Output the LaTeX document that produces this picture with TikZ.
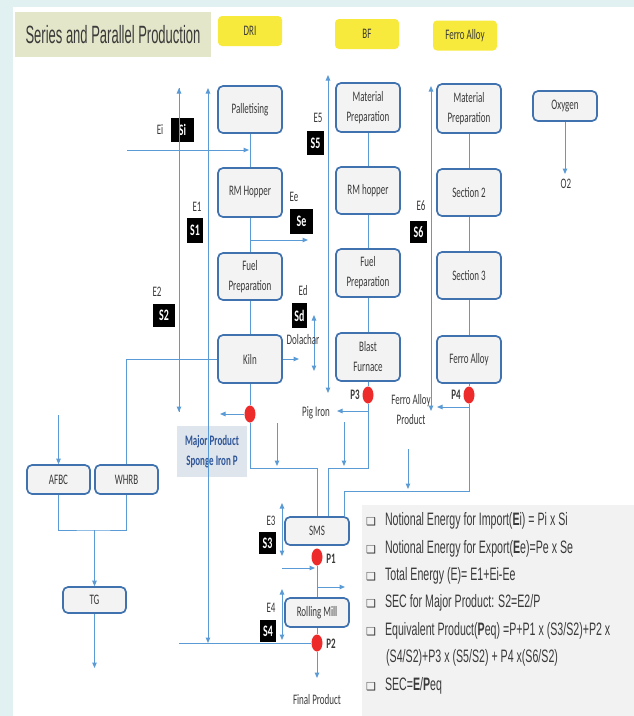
\documentclass[tikz,border=0pt]{standalone}
\usepackage{fontspec}
\usetikzlibrary{arrows.meta,shapes.geometric}
\setmainfont{Carlito}
\newfontfamily\boxface[FakeStretch=0.62]{Carlito}
\newfontfamily\titleface[FakeStretch=0.52]{Liberation Sans}
\newfontfamily\legendface[FakeStretch=0.59]{Liberation Sans}
\newfontfamily\symface{DejaVu Sans}
\newcommand\lblfont{\boxface\fontsize{14.5}{20}\selectfont}
\newcommand\bul{{\symface\fontsize{11}{13}\selectfont ❑}}

\definecolor{bgcyan}{HTML}{E1F1F1}
\definecolor{titlefill}{HTML}{E4E6C9}
\definecolor{tagyellow}{HTML}{F8EA3C}
\definecolor{boxblue}{HTML}{3F72AF}
\definecolor{boxfill}{HTML}{F3F3F3}
\definecolor{lineblue}{HTML}{5B9BD5}
\definecolor{dotred}{HTML}{EE2B2B}
\definecolor{majfill}{HTML}{DEE5ED}
\definecolor{majtext}{HTML}{2F5597}
\definecolor{legendfill}{HTML}{F2F2F2}
\definecolor{txt}{HTML}{3A3A3A}

\tikzset{
  box/.style={draw=boxblue, line width=1.7pt, fill=boxfill, rounded corners=5pt,
    minimum width=64pt, inner sep=0pt, align=center, font=\lblfont, text=txt},
  tag/.style={fill=tagyellow, rounded corners=4pt, minimum width=64pt,
    minimum height=30pt, inner sep=0pt, font=\lblfont, text=txt},
  titlebox/.style={fill=titlefill, minimum width=196pt, minimum height=45pt,
    inner sep=0pt, font=\titleface\fontsize{25}{30}\selectfont, text=txt},
  sbox/.style={fill=black, text=white, font=\boxface\fontsize{16}{18}\selectfont\bfseries, inner sep=0pt},
  elabel/.style={font=\lblfont, text=txt, inner sep=0pt},
  plabel/.style={font=\lblfont\bfseries, text=txt, inner sep=0pt},
  pdot/.style={ellipse, fill=dotred, minimum width=11pt, minimum height=17pt, inner sep=0pt},
  major/.style={fill=majfill, minimum width=70pt, minimum height=51pt, inner sep=0pt,
    align=center, font=\lblfont\bfseries, text=majtext},
  legendbg/.style={fill=legendfill, minimum width=272pt, minimum height=211pt, inner sep=0pt},
  item/.style={font=\legendface\fontsize{18}{22}\selectfont, text=txt, inner sep=0pt, anchor=west},
  flow/.style={draw=lineblue, line width=1pt},
  arr/.style={flow, -{Triangle[length=5.5pt,width=4.5pt]}},
  darr/.style={flow, {Triangle[length=5.5pt,width=4.5pt]}-{Triangle[length=5.5pt,width=4.5pt]}},
}

\begin{document}
\begin{tikzpicture}[x=1pt,y=-1pt]
% page ground
\fill[bgcyan] (0,0) rectangle (634,716);
\fill[white] (13,7) rectangle (634,716);
\useasboundingbox (0,0) rectangle (634,716);

% heading and column tags
\node[titlebox] (title) at (113,34.5) {Series and Parallel Production};
\node[tag] (tdri) at (250,31) {DRI};
\node[tag] (tbf) at (367,34) {BF};
\node[tag] (tfa) at (465,35.5) {Ferro Alloy};

% DRI column
\node[box, minimum height=47pt] (pal) at (250,109.5) {Palletising};
\node[box, minimum height=49pt] (rmh) at (250,192.5) {RM Hopper};
\node[box, minimum height=47pt] (fuel1) at (250,276.5) {Fuel\\Preparation};
\node[box, minimum height=48pt] (kiln) at (250,359) {Kiln};

% BF column
\node[box, minimum height=49pt] (mat1) at (368,107.5) {Material\\Preparation};
\node[box, minimum height=47pt] (rmh2) at (368,190.5) {RM hopper};
\node[box, minimum height=48pt] (fuel2) at (368,273) {Fuel\\Preparation};
\node[box, minimum height=48pt] (bf) at (368,357) {Blast\\Furnace};

% Ferro alloy column
\node[box, minimum height=49pt] (mat2) at (469,108.5) {Material\\Preparation};
\node[box, minimum height=47pt] (sec2) at (469,192.5) {Section 2};
\node[box, minimum height=47pt] (sec3) at (469,275.5) {Section 3};
\node[box, minimum height=47pt] (fa) at (469,359.5) {Ferro Alloy};

\node[box, minimum height=30pt] (oxy) at (565,106) {Oxygen};
\node[elabel] (o2) at (566,184) {O2};

% utilities on the left
\node[box, minimum width=63pt, minimum height=29pt] (afbc) at (58.5,479.5) {AFBC};
\node[box, minimum width=63pt, minimum height=29pt] (whrb) at (126.5,479.5) {WHRB};
\node[box, minimum width=63pt, minimum height=26pt] (tg) at (94.5,600) {TG};

% downstream units
\node[box, minimum height=28pt] (sms) at (317,531) {SMS};
\node[box, minimum height=29pt] (rm) at (317,612.5) {Rolling Mill};

\node[major] (major) at (212,451.5) {Major Product\\Sponge Iron P};

% product points
\node[pdot] (d0) at (250,414) {};
\node[pdot] (p3) at (368,395) {};
\node[pdot] (p4) at (469,395) {};
\node[pdot] (p1) at (317,557) {};
\node[pdot] (p2) at (317,643) {};
\node[plabel] (p3l) at (355,395) {P3};
\node[plabel] (p4l) at (456,395) {P4};
\node[plabel] (p1l) at (331,559) {P1};
\node[plabel] (p2l) at (331,644) {P2};

% free ends and junctions
\coordinate (eiL) at (127,150);  \coordinate (eiR) at (249,150);
\coordinate (seL) at (250,240);  \coordinate (seR) at (308,240);
\coordinate (kilnOut) at (299,359);
\coordinate (dolT) at (314,315); \coordinate (dolB) at (314,371);
\coordinate (aT) at (179,88);    \coordinate (aB) at (179,412);
\coordinate (bT) at (208,88);    \coordinate (bB) at (208,643);
\coordinate (hL) at (179,643);
\coordinate (e3T) at (282,503);  \coordinate (e3B) at (282,556);
\coordinate (e4T) at (282,589);  \coordinate (e4B) at (282,640);
\coordinate (p1in) at (282,568); \coordinate (p1inE) at (315,568);
\coordinate (outS) at (317,587); \coordinate (outE) at (345,587);
\coordinate (fpTip) at (317,678);
\coordinate (spTip) at (220,414);
\coordinate (j1) at (250,468);
\coordinate (j3) at (368,468);
\coordinate (j4) at (469,491);
\coordinate (pigS) at (368,411); \coordinate (pigE) at (337,411);
\coordinate (faS) at (469,407);  \coordinate (faE) at (437,407);
\coordinate (d1T) at (277,423);  \coordinate (d1B) at (277,466);
\coordinate (d2T) at (344,422);  \coordinate (d2B) at (344,466);
\coordinate (d3T) at (408,449);  \coordinate (d3B) at (408,489);
\coordinate (bfT) at (328,75);   \coordinate (bfB) at (328,393);
\coordinate (faT) at (431,86);   \coordinate (faB) at (431,411);
\coordinate (afbcIn) at (58.5,415);
\coordinate (jm) at (94.5,530);
\coordinate (tgOut) at (94.5,668);
\coordinate (o2tip) at (565,174);

% process chains
\draw[flow] (pal) -- (rmh) (rmh) -- (fuel1) (fuel1) -- (kiln) (kiln) -- (d0);
\draw[flow] (mat1) -- (rmh2) (rmh2) -- (fuel2) (fuel2) -- (bf) (bf) -- (p3);
\draw[flow] (mat2) -- (sec2) (sec2) -- (sec3) (sec3) -- (fa) (fa) -- (p4);
\draw[arr] (oxy) -- (o2tip);

% energy flows
\draw[darr] (aT) -- (aB);
\draw[darr] (bT) -- (bB);
\draw[darr] (bfT) -- (bfB);
\draw[darr] (faT) -- (faB);
\draw[arr] (eiL) -- (eiR);
\draw[arr] (seL) -- (seR);
\draw[arr] (kiln) -- (kilnOut);
\draw[darr] (dolT) -- (dolB);

% products to SMS
\draw[arr] (d0) -- (spTip);
\draw[flow] (d0) -- (j1) -| (sms.north);
\draw[flow] (p3) -- (j3) -| ([xshift=11pt]sms.north);
\draw[flow] (p4) -- (j4) -| ([xshift=27pt]sms.north);
\draw[arr] (pigS) -- (pigE);
\draw[arr] (faS) -- (faE);
\draw[arr] (d1T) -- (d1B);
\draw[arr] (d2T) -- (d2B);
\draw[arr] (d3T) -- (d3B);

% SMS and rolling mill
\draw[darr] (e3T) -- (e3B);
\draw[darr] (e4T) -- (e4B);
\draw[arr] (p1in) -- (p1inE);
\draw[flow] (p1) -- (rm);
\draw[arr] (outS) -- (outE);
\draw[flow] (rm) -- (p2);
\draw[flow] (hL) -- (p2);
\draw[arr] (p2) -- (fpTip);

% power plant
\draw[flow] (kiln.west) -| (whrb.north);
\draw[arr] (afbcIn) -- (afbc.north);
\draw[flow] (afbc.south) |- (jm) -| (whrb.south);
\draw[arr] (jm) -- (tg.north);
\draw[arr] (tg.south) -- (tgOut);

% specific energy tags
\node[sbox, minimum width=23pt, minimum height=24pt] (si) at (182.5,130) {Si};
\node[sbox, minimum width=16pt, minimum height=25pt] (s1) at (195,230.5) {S1};
\node[sbox, minimum width=23pt, minimum height=25pt] (se) at (301.5,221.5) {Se};
\node[sbox, minimum width=22pt, minimum height=23pt] (s2) at (164,315.5) {S2};
\node[sbox, minimum width=15pt, minimum height=25pt] (sd) at (299.5,315.5) {Sd};
\node[sbox, minimum width=17pt, minimum height=24pt] (s5) at (315.5,143) {S5};
\node[sbox, minimum width=17pt, minimum height=22pt] (s6) at (418.5,232) {S6};
\node[sbox, minimum width=17pt, minimum height=22pt] (s3) at (267.5,543) {S3};
\node[sbox, minimum width=16pt, minimum height=22pt] (s4) at (268,631) {S4};
\draw[flow] (aT) -- (aB);

% energy labels
\node[elabel] (ei) at (160,130) {Ei};
\node[elabel] (e1) at (197,207) {E1};
\node[elabel] (ee) at (294,197) {Ee};
\node[elabel] (e2) at (157,292) {E2};
\node[elabel] (ed) at (303,291) {Ed};
\node[elabel] (e5) at (318,118) {E5};
\node[elabel] (e6) at (421,206) {E6};
\node[elabel] (e3) at (271,521) {E3};
\node[elabel] (e4) at (271,608) {E4};
\node[elabel] (dol) at (303,340) {Dolachar};
\node[elabel] (pig) at (316,413) {Pig Iron};
\node[elabel, align=center] (fap) at (411,410) {Ferro Alloy\\Product};
\node[elabel] (fp) at (317,700) {Final Product};

% notes
\node[legendbg, anchor=north west] (legend) at (362,505) {};
\node[item] (l1) at (366,521) {\bul\hspace{9pt}Notional Energy for Import(\textbf{E}i) = Pi x Si};
\node[item] (l2) at (366,549) {\bul\hspace{9pt}Notional Energy for Export(\textbf{E}e)=Pe x Se};
\node[item] (l3) at (366,576) {\bul\hspace{9pt}Total Energy (E)= E1+Ei-Ee};
\node[item] (l4) at (366,603) {\bul\hspace{9pt}SEC for Major Product: S2=E2/P};
\node[item] (l5) at (366,631) {\bul\hspace{9pt}Equivalent Product(\textbf{P}eq) =P+P1 x (S3/S2)+P2 x};
\node[item] (l5b) at (386,658) {(S4/S2)+P3 x (S5/S2) + P4 x(S6/S2)};
\node[item] (l6) at (366,686) {\bul\hspace{9pt}SEC=\textbf{E}/\textbf{P}eq};
\end{tikzpicture}
\end{document}
